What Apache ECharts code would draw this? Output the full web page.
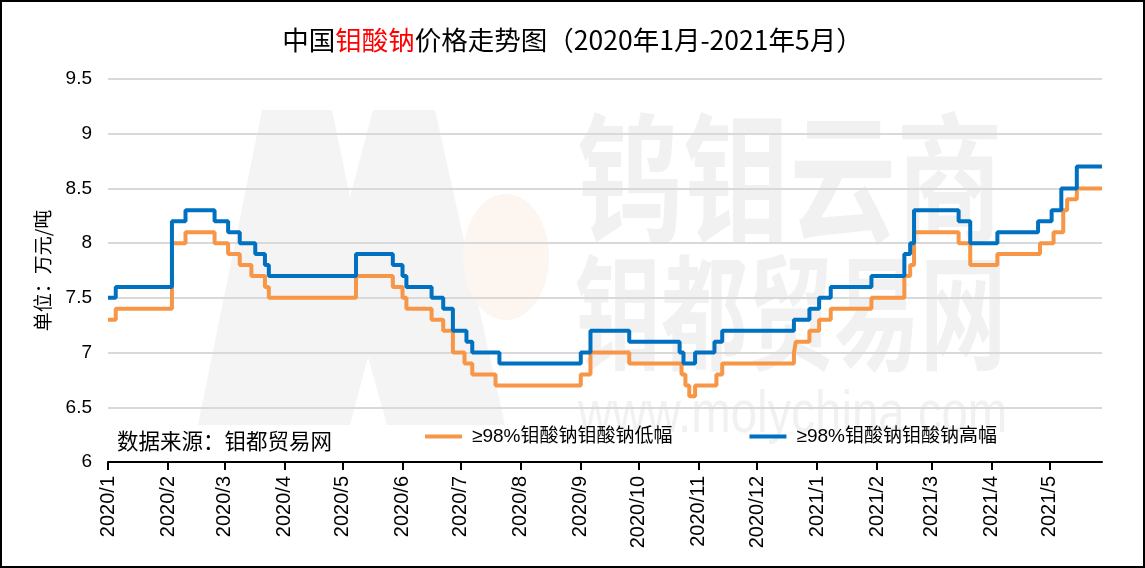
<!DOCTYPE html>
<html>
<head>
<meta charset="utf-8">
<script src="https://cdn.jsdelivr.net/npm/echarts@6/dist/echarts.min.js"></script>
<style>
html,body{margin:0;padding:0;background:#fff;}
#chart{width:1145px;height:568px;}
</style>
</head>
<body>
<div id="chart"></div>
<script>
// ---- data (values hold from each date on) ----
const lowName = '≥98%钼酸钠钼酸钠低幅';
const highName = '≥98%钼酸钠钼酸钠高幅';
const lowDates = ['2020-01-01','2020-01-05','2020-02-03','2020-02-10','2020-02-25','2020-03-03','2020-03-09','2020-03-15','2020-03-22','2020-03-24','2020-05-08','2020-05-27','2020-06-01','2020-06-03','2020-06-16','2020-06-22','2020-06-27','2020-07-03','2020-07-07','2020-07-19','2020-09-01','2020-09-06','2020-09-26','2020-10-23','2020-10-25','2020-10-27','2020-10-30','2020-11-10','2020-11-13','2020-12-20','2020-12-21','2020-12-28','2021-01-02','2021-01-08','2021-01-29','2021-02-15','2021-02-18','2021-02-20','2021-03-15','2021-03-21','2021-04-04','2021-04-26','2021-05-03','2021-05-08','2021-05-10','2021-05-15','2021-05-28'];
const lowValues = [7.3,7.4,8.0,8.1,8.0,7.9,7.8,7.7,7.6,7.5,7.7,7.6,7.5,7.4,7.3,7.2,7.0,6.9,6.8,6.7,6.8,7.0,6.9,6.8,6.7,6.6,6.7,6.8,6.9,7.0,7.1,7.2,7.3,7.4,7.5,7.7,7.8,8.1,8.0,7.8,7.9,8.0,8.1,8.3,8.4,8.5,8.5];
const highDates = ['2020-01-01','2020-01-05','2020-02-03','2020-02-10','2020-02-25','2020-03-03','2020-03-09','2020-03-17','2020-03-22','2020-03-24','2020-05-08','2020-05-27','2020-06-01','2020-06-03','2020-06-16','2020-06-22','2020-06-27','2020-07-04','2020-07-07','2020-07-21','2020-09-01','2020-09-06','2020-09-26','2020-10-22','2020-10-24','2020-10-30','2020-11-09','2020-11-13','2020-12-20','2020-12-28','2021-01-02','2021-01-08','2021-01-29','2021-02-15','2021-02-18','2021-02-20','2021-03-15','2021-03-21','2021-04-04','2021-04-25','2021-05-02','2021-05-07','2021-05-15','2021-05-28'];
const highValues = [7.5,7.6,8.2,8.3,8.2,8.1,8.0,7.9,7.8,7.7,7.9,7.8,7.7,7.6,7.5,7.4,7.2,7.1,7.0,6.9,7.0,7.2,7.1,7.0,6.9,7.0,7.1,7.2,7.3,7.4,7.5,7.6,7.7,7.9,8.0,8.3,8.2,8.0,8.1,8.2,8.3,8.5,8.7,8.7];
const yTicks = ['6','6.5','7','7.5','8','8.5','9','9.5'];
const xStart = '2020-01-01';
const xEnd = '2021-05-28';

const lowData = lowDates.map((d, i) => [d, lowValues[i]]);
const highData = highDates.map((d, i) => [d, highValues[i]]);

const chart = echarts.init(document.getElementById('chart'), null, {renderer: 'canvas'});
const CJK = '"Noto Sans CJK SC", sans-serif';
const LAT = '"Liberation Sans", Arial, sans-serif';
const MIX = '"Liberation Sans", "Noto Sans CJK SC", sans-serif';
const WM = '#f1f1f1';

const option = {
  backgroundColor: '#fff',
  animation: false,
  title: {
    text: '{a|中国}{r|钼酸钠}{a|价格走势图（2020年1月-2021年5月）}',
    left: 'center',
    top: 22,
    textStyle: {
      fontWeight: 'normal',
      rich: {
        a: {fontFamily: CJK, fontSize: 26.5, fontWeight: 'normal', color: '#000'},
        r: {fontFamily: CJK, fontSize: 26.5, fontWeight: 'normal', color: '#ff0000'}
      }
    }
  },
  graphic: [
    {type: 'polygon', z: -10, silent: true,
     shape: {points: [[198,425],[262,110],[332,110],[350,197],[373,110],[435,110],[505,425],[387,425],[368,357],[350,425]]},
     style: {fill: '#f4f4f4'}},
    {type: 'ellipse', z: -10, silent: true, shape: {cx: 506, cy: 257, rx: 43, ry: 63}, style: {fill: '#fdf6f0'}},
    {type: 'text', z: -9, silent: true, x: 577, y: 108, scaleX: 0.76,
     style: {text: '钨钼云商', fontSize: 140, fontWeight: 'bold', fontFamily: CJK, fill: WM, verticalAlign: 'top'}},
    {type: 'text', z: -9, silent: true, x: 575, y: 250, scaleX: 0.69,
     style: {text: '钼都贸易网', fontSize: 125, fontWeight: 'bold', fontFamily: CJK, fill: WM, verticalAlign: 'top'}},
    {type: 'text', z: -9, silent: true, x: 578, y: 385, scaleX: 0.79,
     style: {text: 'www.molychina.com', fontSize: 60, fontFamily: LAT, fill: WM, verticalAlign: 'top'}},
    {type: 'text', z: 5, silent: true, x: 117, y: 441,
     style: {text: '数据来源：钼都贸易网', fontSize: 21.5, fontFamily: CJK, fill: '#000', verticalAlign: 'middle'}},
    {type: 'rect', z: 100, silent: true, shape: {x: 1, y: 1, width: 1143, height: 566},
     style: {fill: null, stroke: '#000', lineWidth: 2}}
  ],
  legend: {
    left: 425,
    top: 427,
    padding: 0,
    itemGap: 77,
    itemWidth: 37,
    itemHeight: 4,
    icon: 'rect',
    textStyle: {fontFamily: MIX, fontSize: 19, color: '#000', padding: [0, 0, 0, 5]},
    data: [lowName, highName]
  },
  grid: {left: 108, right: 43, top: 79, bottom: 106, containLabel: false},
  xAxis: {
    type: 'time',
    min: xStart,
    max: xEnd,
    minInterval: 28 * 86400000,
    maxInterval: 31 * 86400000,
    axisLine: {show: true, lineStyle: {color: '#000', width: 2}},
    axisTick: {show: true, length: 8, lineStyle: {color: '#000', width: 2}},
    splitLine: {show: false},
    axisLabel: {
      rotate: 90,
      margin: 14,
      fontFamily: LAT,
      fontSize: 20,
      color: '#000',
      formatter: function (val) {
        const d = new Date(val);
        return d.getFullYear() + '/' + (d.getMonth() + 1);
      }
    }
  },
  yAxis: {
    type: 'value',
    min: Number(yTicks[0]),
    max: Number(yTicks[yTicks.length - 1]),
    interval: 0.5,
    name: '单位：万元/吨',
    nameLocation: 'middle',
    nameRotate: 90,
    nameGap: 56,
    nameTextStyle: {fontFamily: CJK, fontSize: 19, color: '#000'},
    axisLine: {show: false},
    axisTick: {show: false},
    splitLine: {show: true, lineStyle: {color: '#d9d9d9', width: 2}},
    axisLabel: {
      margin: 16,
      fontFamily: LAT,
      fontSize: 19,
      color: '#000',
      formatter: function (v) { return String(Math.round(v * 10) / 10); }
    }
  },
  series: [
    {name: lowName, type: 'line', step: 'end', data: lowData, showSymbol: false, symbol: 'none',
     lineStyle: {color: '#F79646', width: 4}, itemStyle: {color: '#F79646'}, z: 3},
    {name: highName, type: 'line', step: 'end', data: highData, showSymbol: false, symbol: 'none',
     lineStyle: {color: '#0070C0', width: 4}, itemStyle: {color: '#0070C0'}, z: 4}
  ]
};
chart.setOption(option);
</script>
</body>
</html>
